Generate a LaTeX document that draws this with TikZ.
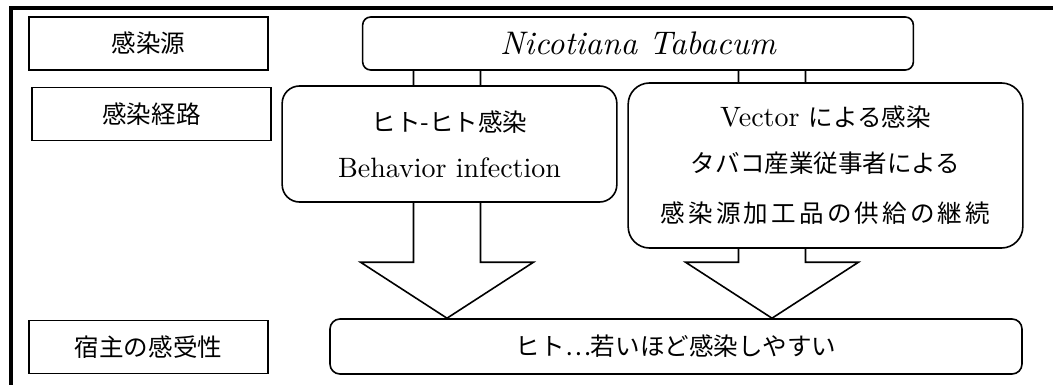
\documentclass[tikz,border=0pt]{standalone}
\usepackage{fontspec}
\newfontfamily\jpfont{Noto Sans CJK JP}
\newfontfamily\lmten{lmroman10-regular.otf}[ItalicFont=lmroman10-italic.otf]
\usetikzlibrary{positioning,backgrounds}
\tikzset{labelbox/.style={draw, fill=white, line width=1.2pt, inner sep=0pt,
      minimum width=179pt, minimum height=40pt,
      font={\fontsize{18.4}{22}\selectfont\jpfont}}}
\tikzset{roundbox/.style={draw, fill=white, line width=1.2pt, inner sep=0pt,
      align=center, font={\fontsize{21}{34.5}\selectfont\lmten}}}
\tikzset{blockarrow/.style={draw, fill=white, line width=1.2pt, line join=miter}}

\begin{document}
\begin{tikzpicture}[x=0.75pt, y=-0.75pt]
    \useasboundingbox (0,0) rectangle (1053,385);
    \draw[line width=3pt] (10.5,385) -- (10.5,8) -- (1053,8);
    % row labels
    \node[labelbox] (srclabel) at (148.5,43.5) {感染源};
    \node[labelbox] (routelabel) at (151.5,114) {感染経路};
    \node[labelbox] (hostlabel) at (148.5,347) {宿主の感受性};
    % boxes
    \node[roundbox, rounded corners=6pt, minimum width=413pt, minimum height=39.75pt,
      font={\fontsize{24.5}{30}\selectfont\lmten\itshape}] (src) at (638,43.5) {Nicotiana Tabacum};
    \node[roundbox, rounded corners=13pt, minimum width=251pt, minimum height=87pt]
      (routeA) at (449.5,144) {{\fontsize{18.4}{22}\selectfont\jpfont ヒト-ヒト感染}\\Behavior infection};
    \node[roundbox, rounded corners=16pt, minimum width=296pt, minimum height=123.75pt]
      (routeB) at (825.5,165.5) {Vector {\fontsize{18.4}{22}\selectfont\jpfont による感染}\\
      {\fontsize{18.4}{22}\selectfont\jpfont タバコ産業従事者による}\\[3pt]
      {\fontsize{18.4}{22}\selectfont\jpfont\addfontfeature{LetterSpace=13}感染源加工品の供給の継続}};
    \node[roundbox, rounded corners=7.5pt, minimum width=519pt, minimum height=41.25pt,
      font={\fontsize{18.4}{22}\selectfont\jpfont}] (host) at (676,346.5)
      {ヒト⋯若いほど感染しやすい};
    % block arrows behind the boxes
    \coordinate (tipA) at (447,0);
    \coordinate (tipB) at (772,0);
    \begin{scope}[on background layer]
      \foreach \t in {tipA,tipB}
        \draw[blockarrow] (\t |- host.north) -- ++(-86.5,-56) -- ++(53,0) -- ++(0,-192)
          -- ++(67,0) -- ++(0,192) -- ++(53,0) -- cycle;
    \end{scope}
\end{tikzpicture}
\end{document}
